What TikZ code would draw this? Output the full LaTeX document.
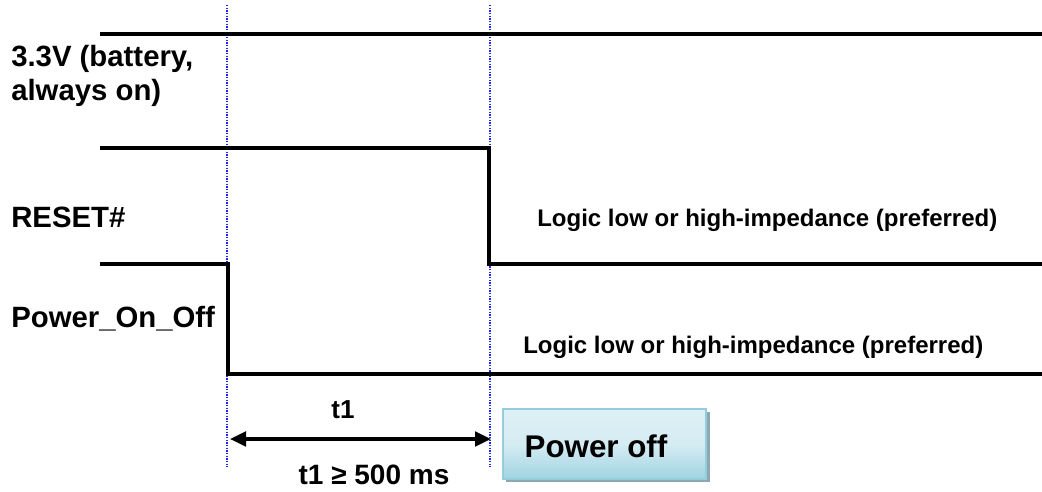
\documentclass[tikz,border=0pt]{standalone}
\usepackage{fontspec}
\setmainfont{Liberation Sans}
\usetikzlibrary{arrows.meta}
\definecolor{guide}{RGB}{30,40,240}
\definecolor{boxedge}{RGB}{150,205,220}
\definecolor{boxlight}{RGB}{222,240,246}
\definecolor{boxdark}{RGB}{160,212,226}
\definecolor{shadowc}{RGB}{140,168,176}
\tikzset{
  sig/.style={line width=2.5pt, line join=miter},
  guideline/.style={guide, line width=0.9pt, dash pattern=on 0.9pt off 1.1pt},
  lbl/.style={font=\fontsize{22}{24}\selectfont\bfseries, anchor=base west, inner sep=0pt},
  note/.style={font=\fontsize{18}{20}\selectfont\bfseries, anchor=base west, inner sep=0pt},
  tlbl/.style={font=\fontsize{19.5}{21}\selectfont\bfseries, inner sep=0pt},
  dim/.style={line width=2.4pt, {Triangle[length=12pt,width=11pt]}-{Triangle[length=12pt,width=11pt]}},
}
\begin{document}
\begin{tikzpicture}[x=0.75pt,y=-0.75pt]
\useasboundingbox (0,0) rectangle (1042,492);
% guide lines
\coordinate (g1t) at (227,5);
\coordinate (g1b) at (227,467);
\coordinate (g2t) at (490,5);
\coordinate (g2b) at (490,467);
\draw[guideline] (g1t) -- (g1b);
\draw[guideline] (g2t) -- (g2b);
% 3.3V
\coordinate (v0) at (100,34);
\coordinate (v1) at (1042,34);
\draw[sig] (v0) -- (v1);
% RESET#
\coordinate (r0) at (100,148);
\coordinate (r1) at (489,148);
\coordinate (r2) at (489,264);
\coordinate (r3) at (1042,264);
\draw[sig] (r0) -- (r1) -- (r2) -- (r3);
% Power_On_Off
\coordinate (p0) at (100,264);
\coordinate (p1) at (228,264);
\coordinate (p2) at (228,374);
\coordinate (p3) at (1042,374);
\draw[sig] (p0) -- (p1) -- (p2) -- (p3);
% labels
\node[lbl] (lv1) at (11,67) {3.3V (battery,};
\node[lbl] (lv2) at (11,100) {always on)};
\node[lbl] (lr) at (11,227) {RESET\#};
\node[lbl] (lp) at (11,327) {Power\_On\_Off};
\node[note] (n1) at (537,226) {Logic low or high-impedance (preferred)};
\node[note] (n2) at (523,353) {Logic low or high-impedance (preferred)};
% timing
\coordinate (a0) at (230,439);
\coordinate (a1) at (491,439);
\draw[dim] (a0) -- (a1);
\node[tlbl] (t1) at (343,410) {t1};
\node[tlbl, font=\fontsize{21}{23}\selectfont\bfseries] (t1c) at (374,475) {t1 ≥ 500 ms};
% Power off box
\fill[shadowc] (506,412) rectangle (710,482);
\shade[top color=boxlight, bottom color=boxdark, middle color=boxlight!85!boxdark, draw=boxedge, line width=1.5pt]
  (503,409) rectangle (706,479);
\node[font=\fontsize{23.5}{25}\selectfont\bfseries, inner sep=0pt] (poff) at (596,446) {Power off};
\end{tikzpicture}
\end{document}
